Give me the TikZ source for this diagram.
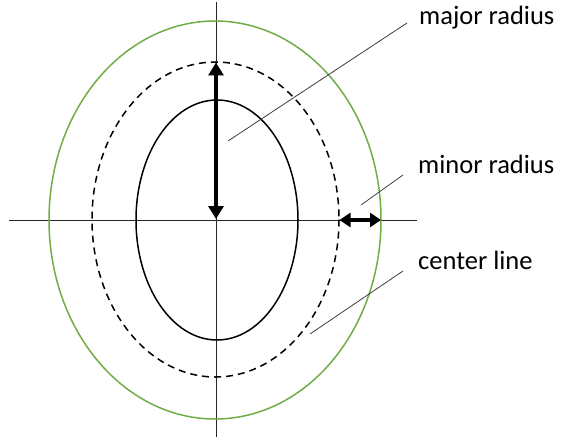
\documentclass[tikz,border=0pt]{standalone}
\usepackage{fontspec}
\setmainfont{Carlito}
\usetikzlibrary{arrows.meta}
\definecolor{ogreen}{RGB}{112,173,71}
\definecolor{leadgray}{RGB}{60,60,60}
\begin{document}
\begin{tikzpicture}[x=1pt,y=-1pt,
  axis/.style={line width=1pt,black!85},
  ell/.style={line width=1.5pt},
  radarrow/.style={line width=3.5pt,{Triangle[length=13pt,width=15pt]}-{Triangle[length=13pt,width=15pt]}},
  leader/.style={line width=0.8pt,leadgray},
  lbl/.style={anchor=base west,inner sep=0pt,font=\fontsize{26.5}{30}\selectfont}]
\useasboundingbox (0,0) rectangle (561,441);
\coordinate (c) at (215.5,220);
% axes
\coordinate (hl) at (9,220);
\coordinate (hr) at (417,220);
\coordinate (vt) at (216,2);
\coordinate (vb) at (216,437);
\draw[axis] (hl) -- (hr);
\draw[axis] (vt) -- (vb);
% ellipses
\draw[ell,ogreen] (215,220) ellipse [x radius=166,y radius=199];
\draw[ell,dash pattern=on 7pt off 5pt] (215.5,219.5) ellipse [x radius=123.5,y radius=157.5];
\draw[ell] (217,220) ellipse [x radius=81,y radius=120];
% radius arrows
\coordinate (maj1) at (216,62.5);
\coordinate (maj2) at (216,219);
\draw[radarrow] (maj2) -- (maj1);
\coordinate (min1) at (339.5,220);
\coordinate (min2) at (381,220);
\draw[radarrow,{Triangle[length=11pt,width=14pt]}-{Triangle[length=11pt,width=14pt]}] (min1) -- (min2);
% labels
\node[lbl] (lmaj) at (419,25) {major radius};
\node[lbl] (lmin) at (418,173) {minor radius};
\node[lbl] (lcen) at (418,269) {center line};
\coordinate (majA) at (407,23);
\coordinate (majB) at (228,141);
\coordinate (minA) at (403,175);
\coordinate (minB) at (361,205);
\coordinate (cenA) at (403,271);
\coordinate (cenB) at (310,334);
\draw[leader] (majA) -- (majB);
\draw[leader] (minA) -- (minB);
\draw[leader] (cenA) -- (cenB);
\end{tikzpicture}
\end{document}
